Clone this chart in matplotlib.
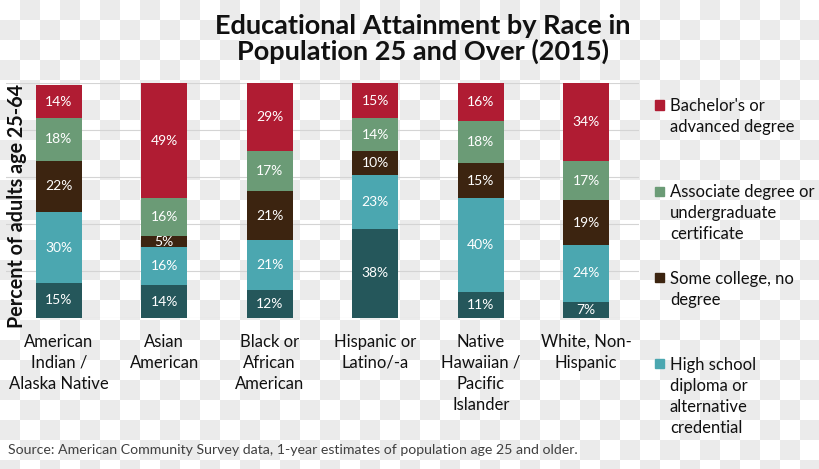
import numpy as np
import matplotlib
matplotlib.use("Agg")
import matplotlib.pyplot as plt
from matplotlib.patches import Rectangle

# ---------------- data ----------------
categories = ["American\nIndian /\nAlaska Native", "Asian\nAmerican",
              "Black or\nAfrican\nAmerican", "Hispanic or\nLatino/-a",
              "Native\nHawaiian /\nPacific\nIslander", "White, Non-\nHispanic"]
less_than_hs = [15, 14, 12, 38, 11, 7]
high_school = [30, 16, 21, 23, 40, 24]
some_college = [22, 5, 21, 10, 15, 19]
associate = [18, 16, 17, 14, 18, 17]
bachelor = [14, 49, 29, 15, 16, 34]
series_names = ["Less than high school",
                "High school\ndiploma or\nalternative\ncredential",
                "Some college, no\ndegree",
                "Associate degree or\nundergraduate\ncertificate",
                "Bachelor's or\nadvanced degree"]
y_ticks = [0, 20, 40, 60, 80, 100]

title = "Educational Attainment by Race in\nPopulation 25 and Over (2015)"
ylabel = "Percent of adults age 25-64"
source = "Source: American Community Survey data, 1-year estimates of population age 25 and older."

colors = ["#25575b", "#4ba7b0", "#3c2410", "#6b9b76", "#b01c33"]

FONT = ["Lato", "DejaVu Sans"]
plt.rcParams["font.family"] = FONT

W, H = 820, 469
fig = plt.figure(figsize=(W / 100, H / 100), dpi=100)

# transparent-style checkerboard background
sq = 20
yy, xx = np.mgrid[0:H, 0:W]
board = ((xx // sq + yy // sq) % 2).astype(float)
img = np.where(board[..., None] == 1, 0.925, 1.0) * np.ones((H, W, 3))
fig.figimage(img, 0, 0, origin="upper", zorder=-10)
fig.patch.set_alpha(0)

def fx(px):
    return px / W

def fy(py):
    return 1 - py / H

ax = fig.add_axes([fx(6), fy(318), fx(639) - fx(6), fy(83) - fy(318)])
ax.patch.set_alpha(0)

x = np.arange(len(categories))
series = [less_than_hs, high_school, some_college, associate, bachelor]
bottom = np.zeros(len(categories))
for vals, col, name in zip(series, colors, series_names):
    cont = ax.bar(x, vals, width=0.44, bottom=bottom, color=col, label=name, zorder=3)
    ax.bar_label(cont, labels=[f"{v}%" for v in vals], label_type="center",
                 color="white", fontsize=10, zorder=4)
    bottom += np.array(vals)

ax.set_xlim(-0.5, len(categories) - 0.5)
ax.set_ylim(0, 100)
ax.set_yticks(y_ticks)
ax.yaxis.grid(True, color="#d4d4d4", linewidth=0.8, zorder=0)
ax.tick_params(left=False, labelleft=False, bottom=False, labelbottom=False)
for s in ax.spines.values():
    s.set_visible(False)

# category labels
for xi, lab in zip(x, categories):
    ax.text(xi, -6.8, lab, ha="center", va="top", fontsize=12, linespacing=1.38,
            color="#111111", transform=ax.transData, clip_on=False)

# y label
fig.text(fx(17), fy(206), ylabel, rotation=90, ha="center", va="center",
         fontsize=14.2, fontweight="bold", color="#111111")

# title
fig.text(fx(423), fy(14), title, ha="center", va="top", fontsize=19.5,
         fontweight="bold", linespacing=1.05, color="#111111")

# legend (Excel-style, reversed order; last entry cut off in original)
leg_items = list(zip(series_names, colors))[::-1][:4]
for i, (name, col) in enumerate(leg_items):
    yc = 105 + i * 86.3
    fig.patches.append(Rectangle((fx(655), fy(yc + 4.5)), fx(9), 9 / H,
                                 transform=fig.transFigure, color=col))
    fig.text(fx(670), fy(yc - 7), name, ha="left", va="top", fontsize=12,
             linespacing=1.38, color="#111111")

# source
fig.text(fx(8), fy(450), source, ha="left", va="center", fontsize=10.2, color="#404040")

fig.savefig("out.png", dpi=100)
